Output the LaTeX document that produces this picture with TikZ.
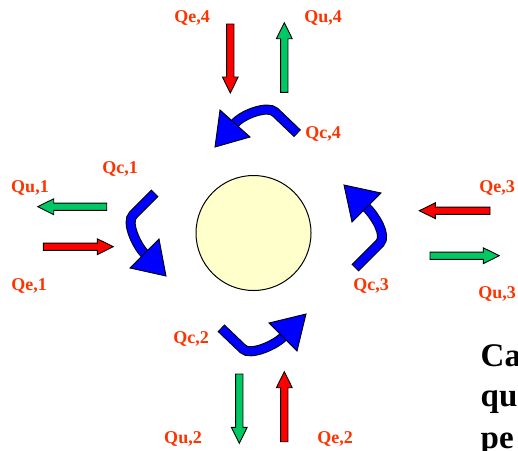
\documentclass[tikz,border=0pt]{standalone}
\usepackage{fontspec}
\setmainfont{Liberation Serif}
\definecolor{lblred}{RGB}{255,51,0}
\definecolor{arrgreen}{RGB}{0,200,100}
\definecolor{arrred}{RGB}{255,0,0}
\definecolor{arrblue}{RGB}{0,0,255}
\definecolor{sunfill}{RGB}{255,255,204}
\newcommand\BlockArrow[5]{% colour, x, y, angle, length
  \begin{scope}[shift={(#2,#3)},rotate=#4]
    \draw[fill=#1,line width=0.9pt,line join=miter]
      (0,3.65) -- ({#5-16},3.65) -- ({#5-16},7.9) -- (#5,0)
      -- ({#5-16},-7.9) -- ({#5-16},-3.65) -- (0,-3.65) -- cycle;
  \end{scope}}
\newcommand\CurlArrow[4]{% shaft path, tip, corner1, corner2
  \draw[line width=10pt,black] #1;
  \draw[line width=8pt,arrblue,shorten <=1pt] #1;
  \draw[fill=arrblue,line width=0.9pt,line join=miter] #3 -- #2 -- #4 -- cycle;}
\tikzset{
  lbl/.style={text=lblred,font=\bfseries\fontsize{18}{18}\selectfont,inner sep=0pt,anchor=base},
  bigtxt/.style={text=black,font=\bfseries\fontsize{33}{33}\selectfont,inner sep=0pt,anchor=base west}
}
\begin{document}
\begin{tikzpicture}[x=1pt,y=-1pt]
\useasboundingbox (0,0) rectangle (518,450);
\clip (0,0) rectangle (518,450);
% central body
\node[circle,draw,line width=1pt,fill=sunfill,minimum size=115pt,inner sep=0pt] (sun) at (253.5,233) {};
% labels
\node[lbl] (qe4) at (192,22) {Qe,4};
\node[lbl] (qu4) at (323,22) {Qu,4};
\node[lbl] (qc4) at (323,138) {Qc,4};
\node[lbl] (qc1) at (120,173) {Qc,1};
\node[lbl] (qu1) at (30,192) {Qu,1};
\node[lbl] (qe1) at (29,290) {Qe,1};
\node[lbl] (qe3) at (497,192) {Qe,3};
\node[lbl] (qu3) at (497,298) {Qu,3};
\node[lbl] (qc3) at (371,290) {Qc,3};
\node[lbl] (qc2) at (191,343) {Qc,2};
\node[lbl] (qu2) at (183,443) {Qu,2};
\node[lbl] (qe2) at (335,443) {Qe,2};
% straight block arrows
\BlockArrow{arrred}{230.3}{24}{-90}{69}
\BlockArrow{arrgreen}{284.3}{92.3}{90}{69.6}
\BlockArrow{arrgreen}{106.7}{206.7}{180}{69}
\BlockArrow{arrred}{43.3}{246.7}{0}{70}
\BlockArrow{arrred}{490}{210.7}{180}{70.7}
\BlockArrow{arrgreen}{430}{255.7}{0}{69.3}
\BlockArrow{arrgreen}{239.3}{374}{-90}{69.3}
\BlockArrow{arrred}{284.3}{441.7}{90}{70}
% curved exchange arrows
\CurlArrow{(297.5,133.5) -- (275,112) .. controls (267.8,105.1) and (242.8,114.2) .. (235,123.3)}{(215,147)}{(220,110)}{(250,137)}
\CurlArrow{(155,193) -- (133,215) .. controls (125.9,222.1) and (136.2,244.9) .. (144.5,253.5)}{(166,276)}{(130,268)}{(159,239)}
\CurlArrow{(355,268) -- (380,243) .. controls (387,235) and (375,216) .. (366.5,207.5)}{(344,185)}{(352,222)}{(381,193)}
\CurlArrow{(221,328) -- (243,349) .. controls (250,356) and (274.5,345.5) .. (283,337)}{(306,314)}{(269,323)}{(297,351)}
% text cut off at the right edge
\node[bigtxt] (t1) at (480.5,366) {Ca};
\node[bigtxt] (t2) at (480.5,406) {qu};
\node[bigtxt] (t3) at (480.5,448) {pe};
\end{tikzpicture}
\end{document}
